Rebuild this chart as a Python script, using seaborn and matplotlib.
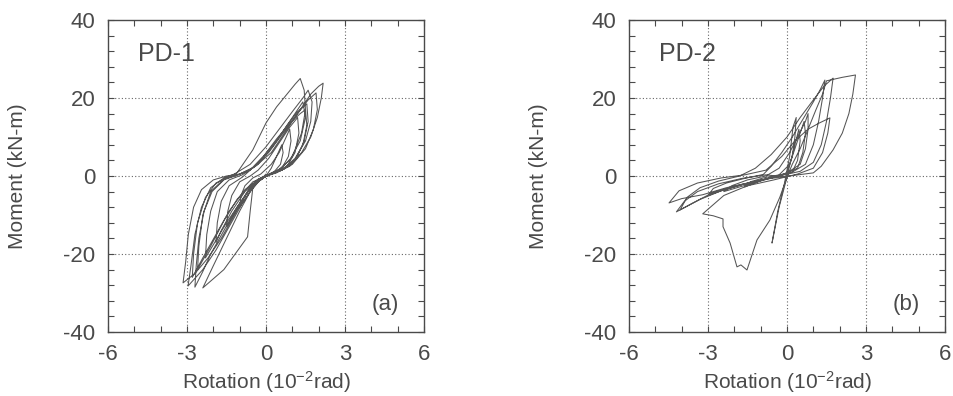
import numpy as np
import pandas as pd
import matplotlib
matplotlib.use("Agg")
import matplotlib.pyplot as plt
import seaborn as sns
from matplotlib.ticker import MultipleLocator

# ---------------- data ----------------
# PD-1 hysteresis path, (rotation 1e-2 rad, moment kN-m), cycle by cycle
pd1_path = [
    (0, 0), (0.2, 2), (0.4, 5), (0.6, 8), (0.65, 6), (0.55, 3), (0.3, 1), (0, 0), (-0.3, -1.5), (-0.6, -4),
    (-1.0, -8), (-0.95, -5), (-0.8, -2.5), (-0.5, -0.5),
    (-0.2, 0.5), (0.2, 3), (0.5, 6), (0.7, 9), (0.9, 12), (0.95, 9), (0.85, 5), (0.6, 2), (0.2, 0.5), (-0.3, -1),
    (-0.7, -4), (-1.1, -8.5), (-1.5, -13), (-1.45, -9), (-1.3, -5), (-1.0, -1.5), (-0.6, 0),
    (-0.3, 1.5), (0.1, 4.5), (0.5, 8.5), (0.9, 12.5), (1.2, 15), (1.25, 11), (1.1, 6), (0.8, 2.5), (0.3, 0.8),
    (-0.3, -0.8), (-0.8, -4), (-1.3, -9), (-1.7, -14), (-1.9, -17), (-1.85, -12), (-1.7, -6.5), (-1.4, -2.5),
    (-0.9, -0.3),
    (-0.6, 1.5), (-0.1, 5), (0.4, 9.5), (0.9, 13.5), (1.3, 16), (1.5, 17), (1.55, 13), (1.4, 8), (1.1, 4),
    (0.6, 1.5), (0.0, 0), (-0.5, -2.5), (-1.0, -7), (-1.5, -12), (-1.9, -16.5), (-2.3, -21), (-2.25, -15),
    (-2.1, -9), (-1.85, -4), (-1.4, -1), (-0.9, 0.3),
    (-0.3, 3), (0.3, 8), (0.8, 13), (1.2, 16.5), (1.55, 18.5), (1.6, 14), (1.45, 9), (1.15, 4.5), (0.7, 1.8),
    (0.1, 0.3), (-0.5, -1.5), (-1.1, -6), (-1.6, -11.5), (-2.1, -18), (-2.6, -24), (-2.55, -18), (-2.4, -10),
    (-2.1, -4), (-1.6, -0.8), (-1.0, 0.5),
    (-0.5, 2), (0.1, 6), (0.7, 11.5), (1.2, 16), (1.6, 19.5), (1.9, 21.3), (1.95, 17), (1.8, 12), (1.5, 7),
    (1.0, 3), (0.4, 0.8), (-0.2, -0.5), (-0.8, -3.5), (-1.4, -9), (-1.9, -15), (-2.4, -21), (-2.8, -26),
    (-2.75, -20), (-2.6, -12), (-2.3, -5.5), (-1.9, -1.8), (-1.4, -0.2),
    (-1.1, 0.8), (-0.5, 6.7), (0.0, 13.6), (0.4, 17.7), (0.8, 21), (1.1, 23.5), (1.3, 25), (1.45, 22), (1.5, 17),
    (1.35, 11), (1.0, 5), (0.6, 2), (0.2, 0.8), (-0.3, -1), (-0.7, -4), (-1.2, -10), (-1.7, -16), (-2.2, -21),
    (-2.7, -25), (-3.15, -27.4), (-3.05, -22), (-2.95, -15), (-2.75, -8), (-2.45, -3.5), (-2.0, -1), (-1.5, 0),
    (-1.0, 0.5), (-0.4, 2.5), (0.2, 6), (0.8, 12), (1.3, 17), (1.7, 21), (2.0, 23), (2.17, 23.8), (2.1, 20),
    (1.95, 15), (1.7, 10), (1.35, 6), (0.9, 2.5), (0.4, 1), (0.0, 0), (-0.4, -2), (-0.9, -7), (-1.4, -13),
    (-1.9, -19), (-2.4, -24), (-2.96, -28.2), (-2.85, -23), (-2.7, -15), (-2.45, -8), (-2.1, -3), (-1.6, -0.5),
    (-1.2, 0.5), (-0.6, 3), (0.0, 7.5), (0.5, 12), (1.0, 16.5), (1.4, 20), (1.6, 22), (1.75, 19), (1.7, 14),
    (1.5, 9), (1.1, 4.5), (0.6, 1.5), (0.0, 0), (-0.6, -3), (-1.1, -8), (-1.6, -14), (-2.1, -20), (-2.4, -24.5),
    (-2.7, -28.5), (-2.65, -23), (-2.55, -16), (-2.35, -9), (-2.05, -4), (-1.6, -1), (-1.1, 0.2),
    (-0.6, 1.5), (-0.1, 5), (0.4, 9), (0.9, 14), (1.4, 19), (1.5, 15), (1.3, 9), (0.9, 4), (0.4, 1.2),
    (-0.2, -0.8), (-0.6, -4), (-1.0, -9), (-1.5, -16), (-2.0, -23), (-2.4, -28.7), (-1.6, -24), (-0.7, -15.6),
    (-0.6, -9), (-0.5, -3), (0.0, 0.5),
]

# PD-2 hysteresis path
pd2_path = [
    (0, 0), (0.15, 4), (0.3, 8), (0.45, 12), (0.5, 9), (0.4, 4), (0.2, 1), (-0.4, 0), (-1.0, -1.2), (-1.6, -2.8),
    (-1.4, -1.5), (-0.9, -0.5), (-0.3, 0.3),
    (0.1, 3), (0.3, 7), (0.5, 11), (0.65, 14), (0.7, 11), (0.6, 6), (0.4, 2), (-0.2, 0.3), (-1.0, -1.3),
    (-1.8, -2.8), (-2.4, -4), (-2.1, -2.5), (-1.5, -1), (-0.8, 0),
    (-0.3, 2), (0.1, 6), (0.4, 10), (0.7, 14), (0.8, 16), (0.8, 12), (0.7, 7), (0.5, 3), (0.0, 0.8), (-0.8, -0.8),
    (-1.7, -2.2), (-2.5, -3.8), (-3.0, -5), (-2.8, -3.2), (-2.3, -1.8), (-1.6, -0.6), (-0.9, 0.4),
    (-0.6, 2.5), (-0.2, 6), (0.2, 10), (0.6, 14.5), (1.0, 19), (1.25, 22), (1.44, 24.6), (1.35, 20), (1.2, 14),
    (1.0, 8), (0.7, 3), (0.2, 1), (-0.6, -0.5), (-1.6, -2), (-2.5, -3.8), (-3.3, -6), (-4.06, -8.7), (-3.8, -5.5),
    (-3.3, -3), (-2.6, -1.3), (-1.8, 0),
    (-1.2, 2), (-0.6, 5.5), (0.0, 10), (0.5, 15), (1.0, 19.5), (1.4, 23), (1.75, 25.1), (1.65, 20), (1.5, 14),
    (1.3, 8), (1.0, 3.5), (0.5, 1.2), (-0.3, 0), (-1.3, -1.5), (-2.3, -3), (-3.2, -4.8), (-4.0, -5.8),
    (-4.48, -6.9), (-4.1, -3.8), (-3.4, -1.8), (-2.5, -0.5), (-1.6, 0.3),
    (-0.8, 1.5), (-0.2, 5), (0.3, 9), (0.8, 12), (1.2, 13.5), (1.63, 14.9), (1.55, 11), (1.35, 6), (1.0, 2),
    (0.4, 0.5), (-0.5, -1), (-1.5, -2.5), (-2.4, -5), (-3.2, -9.7), (-2.8, -10.2), (-2.43, -11), (-2.43, -13),
    (-2.16, -17.2), (-1.9, -23.3), (-1.75, -22.8), (-1.52, -24.1), (-1.14, -16.4), (-0.65, -11.3),
    (-0.27, -5.4), (0.0, -0.3),
    (0.2, 3), (0.5, 7), (0.8, 12), (1.1, 17), (1.35, 21), (1.5, 24.4), (2.1, 25.3), (2.6, 25.9), (2.5, 21),
    (2.35, 16), (2.1, 11), (1.75, 6.7), (1.3, 2.5), (1.0, 0.8), (0.3, 0.2), (-0.8, -0.8), (-1.8, -2.3),
    (-2.8, -4.2), (-3.6, -7), (-4.2, -9.2), (-3.9, -6.5), (-3.4, -4), (-2.6, -2), (-1.7, -0.6), (-0.8, 0.3),
    (0.0, -0.3), (-0.3, -8), (-0.57, -17.2), (-0.35, -9), (-0.1, -2), (0.1, 5), (0.23, 12.6), (0.35, 15),
    (0.3, 10), (0.2, 5), (0.0, 1),
]

x_ticks = [-6, -3, 0, 3, 6]
y_ticks = [-40, -20, 0, 20, 40]
specimens = ["PD-1", "PD-2"]
panel_tags = ["(a)", "(b)"]

# ---------------- style ----------------
sns.set_theme(style="ticks")
plt.rcParams['font.family'] = ['Liberation Sans', 'DejaVu Sans']
plt.rcParams['mathtext.default'] = 'regular'
TXT = "#4a4a4a"
LINE = "#555555"

fig = plt.figure(figsize=(9.54, 3.96), dpi=100)
W, H = 954, 396
boxes = [(108, 20, 316, 312), (629, 20, 316, 312)]

for path, name, tag, (x0, y0, w, h) in zip([pd1_path, pd2_path], specimens, panel_tags, boxes):
    ax = fig.add_axes([x0 / W, (H - y0 - h) / H, w / W, h / H])
    df = pd.DataFrame(path, columns=["Rotation", "Moment"])
    sns.lineplot(data=df, x="Rotation", y="Moment", sort=False, estimator=None,
                 color=LINE, linewidth=0.75, ax=ax)
    ax.set_xlim(-6, 6)
    ax.set_ylim(-40, 40)
    ax.set_xticks(x_ticks)
    ax.set_yticks(y_ticks)
    ax.set_xticklabels([str(v) for v in x_ticks])
    ax.set_yticklabels([str(v) for v in y_ticks])
    ax.xaxis.set_minor_locator(MultipleLocator(1))
    ax.yaxis.set_minor_locator(MultipleLocator(4))
    ax.tick_params(which="both", direction="in", top=True, right=True,
                   length=4, width=0.8, color=TXT)
    ax.tick_params(axis="x", which="major", labelsize=16, labelcolor=TXT, pad=9)
    ax.tick_params(axis="y", which="major", labelsize=16, labelcolor=TXT, pad=9)
    for v in x_ticks[1:-1]:
        ax.axvline(v, color="#666666", linestyle=(0, (1, 2)), linewidth=0.8, zorder=0)
    for v in y_ticks[1:-1]:
        ax.axhline(v, color="#666666", linestyle=(0, (1, 2)), linewidth=0.8, zorder=0)
    for s in ax.spines.values():
        s.set_color(TXT)
        s.set_linewidth(1.0)
    ax.set_xlabel("Rotation (10$^{-2}$rad)", fontsize=15, color=TXT)
    ax.set_ylabel("Moment (kN-m)", fontsize=15, color=TXT)
    ax.xaxis.set_label_coords(0.5, -0.118)
    ax.yaxis.set_label_coords(-0.255, 0.5)
    ax.text(0.095, 0.93, name, transform=ax.transAxes, fontsize=18, color=TXT,
            ha="left", va="top")
    ax.text(0.92, 0.055, tag, transform=ax.transAxes, fontsize=16, color=TXT,
            ha="right", va="bottom")
    if ax.get_legend() is not None:
        ax.get_legend().remove()

fig.savefig("out.png", dpi=100)
